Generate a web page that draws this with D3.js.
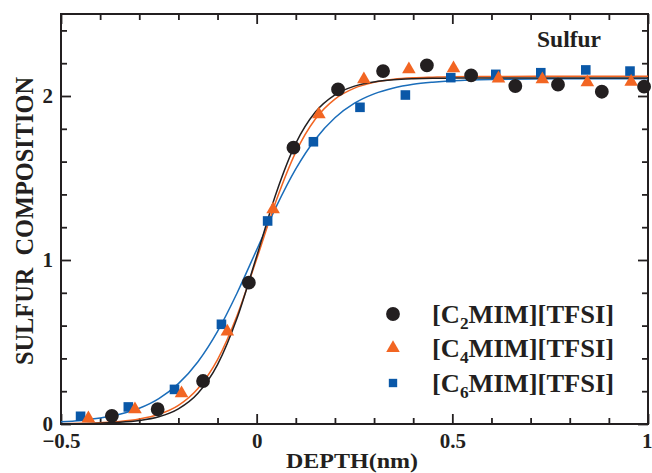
<!DOCTYPE html>
<html>
<head>
<meta charset="utf-8">
<script src="https://cdn.jsdelivr.net/npm/d3@7"></script>
<style>
  html, body { margin: 0; padding: 0; background: #ffffff; }
  svg { display: block; }
  text { font-family: "Liberation Serif", "Times New Roman", serif; font-weight: bold; fill: #231f20; }
</style>
</head>
<body>
<svg id="chart" width="652" height="473"></svg>
<script>
// ---- data ----
const depthC2  = [-0.37, -0.253, -0.137, -0.02, 0.094, 0.208, 0.323, 0.435, 0.548, 0.661, 0.770, 0.882, 0.990];
const sulfurC2 = [0.05, 0.09, 0.262, 0.862, 1.685, 2.04, 2.152, 2.187, 2.126, 2.061, 2.069, 2.026, 2.057];

const depthC4  = [-0.43, -0.311, -0.192, -0.075, 0.042, 0.159, 0.274, 0.389, 0.503, 0.618, 0.730, 0.845, 0.957];
const sulfurC4 = [0.035, 0.09, 0.187, 0.563, 1.309, 1.888, 2.101, 2.163, 2.169, 2.107, 2.101, 2.083, 2.087];

const depthC6  = [-0.45, -0.328, -0.210, -0.090, 0.028, 0.145, 0.264, 0.380, 0.496, 0.611, 0.726, 0.841, 0.954];
const sulfurC6 = [0.047, 0.104, 0.211, 0.608, 1.238, 1.721, 1.931, 2.006, 2.112, 2.132, 2.142, 2.159, 2.152];

// fitted curves, read at these depths
const fitDepth = [-0.5, -0.45, -0.4, -0.35, -0.3, -0.25, -0.2, -0.15, -0.1, -0.05, 0, 0.05, 0.1, 0.15, 0.2, 0.25, 0.3, 0.35, 0.4, 0.45, 0.5, 0.6, 0.8, 1.0];
const fitC2 = [0.001, 0.002, 0.005, 0.010, 0.021, 0.044, 0.092, 0.187, 0.362, 0.646, 1.023, 1.409, 1.711, 1.902, 2.007, 2.060, 2.086, 2.099, 2.105, 2.108, 2.109, 2.110, 2.110, 2.110];
const fitC4 = [0.002, 0.004, 0.008, 0.015, 0.030, 0.059, 0.114, 0.217, 0.392, 0.661, 1.006, 1.363, 1.658, 1.860, 1.981, 2.048, 2.083, 2.102, 2.111, 2.115, 2.118, 2.119, 2.120, 2.120];
const fitC6 = [0.013, 0.022, 0.036, 0.059, 0.096, 0.155, 0.246, 0.380, 0.565, 0.799, 1.062, 1.325, 1.555, 1.736, 1.867, 1.956, 2.013, 2.049, 2.071, 2.084, 2.093, 2.101, 2.105, 2.105];

const seriesNames = ["C2", "C4", "C6"];
const legendSub = ["2", "4", "6"];

const xTickValues = [-0.5, 0, 0.5, 1];
const xTickLabels = ["\u22120.5", "0", "0.5", "1"];
const xMinorTicks = [-0.4, -0.3, -0.2, -0.1, 0.1, 0.2, 0.3, 0.4, 0.6, 0.7, 0.8, 0.9];
const yTickValues = [0, 1, 2];
const yTickLabels = ["0", "1", "2"];
const yMinorTicks = [0.2, 0.4, 0.6, 0.8, 1.2, 1.4, 1.6, 1.8, 2.2, 2.4];

// ---- layout / style ----
const margin = { left: 61, right: 4, top: 14, bottom: 49 };
const W = 652, H = 473;
const ink = "#231f20";
const colors = { C2: "#231f20", C4: "#f26522", C6: "#0a58a8" };
const lineColors = { C2: "#231f20", C4: "#f26522", C6: "#1a6dba" };

const svg = d3.select("#chart");
const x = d3.scaleLinear().domain([-0.5, 1]).range([margin.left, W - margin.right]);
const y = d3.scaleLinear().domain([0, 2.5]).range([H - margin.bottom, margin.top]);

function styleAxis(g) {
  g.select(".domain").remove();
  g.selectAll(".tick line").attr("stroke", ink).attr("stroke-width", 1.8);
  g.selectAll(".tick text").style("font-size", "21px").attr("fill", ink);
}
const y0 = y(0), yTop = y(2.5), x0 = x(-0.5), xRight = x(1);

const bottomAxis = svg.append("g").attr("transform", `translate(0,${y0})`)
  .call(d3.axisBottom(x).tickValues(xTickValues).tickSize(-10).tickPadding(9)
        .tickFormat((d, i) => xTickLabels[i])).call(styleAxis);
// keep the last label inside the picture
bottomAxis.selectAll(".tick text").filter(d => d === 1).attr("text-anchor", "end").attr("x", 4);

svg.append("g").attr("transform", `translate(0,${y0})`)
  .call(d3.axisBottom(x).tickValues(xMinorTicks).tickSize(-6).tickFormat("")).call(styleAxis);
svg.append("g").attr("transform", `translate(0,${yTop})`)
  .call(d3.axisTop(x).tickValues(xTickValues).tickSize(-10).tickFormat("")).call(styleAxis);
svg.append("g").attr("transform", `translate(0,${yTop})`)
  .call(d3.axisTop(x).tickValues(xMinorTicks).tickSize(-6).tickFormat("")).call(styleAxis);

svg.append("g").attr("transform", `translate(${x0},0)`)
  .call(d3.axisLeft(y).tickValues(yTickValues).tickSize(-10).tickPadding(8)
        .tickFormat((d, i) => yTickLabels[i])).call(styleAxis);
svg.append("g").attr("transform", `translate(${x0},0)`)
  .call(d3.axisLeft(y).tickValues(yMinorTicks).tickSize(-6).tickFormat("")).call(styleAxis);
svg.append("g").attr("transform", `translate(${xRight},0)`)
  .call(d3.axisRight(y).tickValues(yTickValues).tickSize(-10).tickFormat("")).call(styleAxis);
svg.append("g").attr("transform", `translate(${xRight},0)`)
  .call(d3.axisRight(y).tickValues(yMinorTicks).tickSize(-6).tickFormat("")).call(styleAxis);

// frame
svg.append("rect").attr("x", x0).attr("y", yTop).attr("width", xRight - x0).attr("height", y0 - yTop)
  .attr("fill", "none").attr("stroke", ink).attr("stroke-width", 2);

svg.append("clipPath").attr("id", "plotclip").append("rect")
  .attr("x", x0).attr("y", yTop).attr("width", xRight - x0).attr("height", y0 - yTop);

// fitted curves
const fits = { C2: fitC2, C4: fitC4, C6: fitC6 };
const line = d3.line().x(d => x(d[0])).y(d => y(d[1])).curve(d3.curveMonotoneX);
["C6", "C4", "C2"].forEach(k => {
  svg.append("path").attr("clip-path", "url(#plotclip)")
    .datum(fitDepth.map((d, i) => [d, fits[k][i]]))
    .attr("fill", "none").attr("stroke", lineColors[k]).attr("stroke-width", 1.5)
    .attr("d", line);
});

// markers
const symbols = { C2: d3.symbolCircle, C4: d3.symbolTriangle, C6: d3.symbolSquare };
const sizes = { C2: 150, C4: 80, C6: 92 };
const pts = {
  C2: depthC2.map((d, i) => [d, sulfurC2[i]]),
  C4: depthC4.map((d, i) => [d, sulfurC4[i]]),
  C6: depthC6.map((d, i) => [d, sulfurC6[i]])
};
["C6", "C4", "C2"].forEach(k => {
  svg.append("g").selectAll("path").data(pts[k]).join("path")
    .attr("transform", d => `translate(${x(d[0])},${y(d[1])})`)
    .attr("d", d3.symbol().type(symbols[k]).size(sizes[k]))
    .attr("fill", colors[k]);
});

// legend
const legendY = [314, 348, 383];
const legendSizes = { C2: 150, C4: 80, C6: 70 };
seriesNames.forEach((k, i) => {
  svg.append("path")
    .attr("transform", `translate(393,${legendY[i]})`)
    .attr("d", d3.symbol().type(symbols[k]).size(legendSizes[k]))
    .attr("fill", colors[k]);
  const t = svg.append("text").attr("x", 432).attr("y", legendY[i] + 9).style("font-size", "26px")
    .attr("textLength", 182).attr("lengthAdjust", "spacingAndGlyphs");
  t.append("tspan").text("[C");
  t.append("tspan").attr("dy", 6).style("font-size", "17px").text(legendSub[i]);
  t.append("tspan").attr("dy", -6).text("MIM][TFSI]");
});

// labels
svg.append("text").attr("x", 537).attr("y", 47).style("font-size", "23px")
  .attr("textLength", 64).attr("lengthAdjust", "spacingAndGlyphs").text("Sulfur");

svg.append("text").attr("x", 352).attr("y", 468).attr("text-anchor", "middle")
  .style("font-size", "22px").attr("textLength", 132).attr("lengthAdjust", "spacingAndGlyphs")
  .text("DEPTH(nm)");

svg.append("text").attr("transform", "translate(33,221) rotate(-90)").attr("text-anchor", "middle")
  .style("font-size", "26px").style("white-space", "pre")
  .attr("textLength", 288).attr("lengthAdjust", "spacingAndGlyphs")
  .text("SULFUR  COMPOSITION");
</script>
</body>
</html>
